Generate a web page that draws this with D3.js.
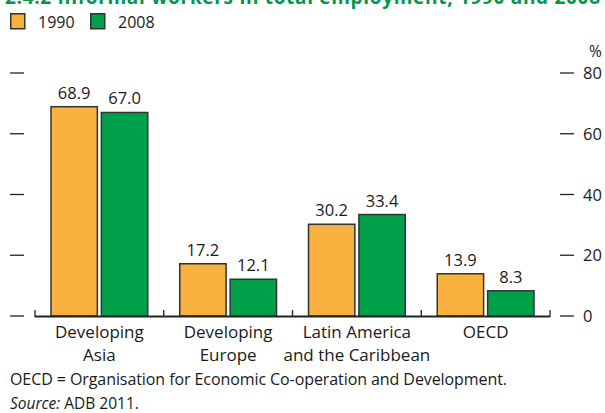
<!DOCTYPE html>
<html><head><meta charset="utf-8">
<script src="https://cdn.jsdelivr.net/npm/d3@7"></script>
<style>body{margin:0;background:#fff}svg{display:block}text{font-family:"Open Sans","Noto Sans",sans-serif;fill:#1a1a1a}</style>
</head><body><svg id="c" width="605" height="413"></svg>
<script>
const categories = [["Developing","Asia"],["Developing","Europe"],["Latin America","and the Caribbean"],["OECD"]];
const seriesNames = ["1990","2008"];
const values1990 = [68.9, 17.2, 30.2, 13.9];
const values2008 = [67.0, 12.1, 33.4, 8.3];
const yTicks = [0,20,40,60,80];
const colors = ["#F8B03F","#00A04B"];

const svg = d3.select("#c");
const x = d3.scaleBand().domain(d3.range(categories.length)).range([35,550]);
const y = d3.scaleLinear().domain([0,80]).range([316,73]);
const inner = d3.scaleBand().domain([0,1]).range([16, x.bandwidth()-16]).paddingInner(0.08);

// title (clipped at top as in the reference)
svg.append("text").attr("x",5).attr("y",4).attr("font-size",19).attr("font-weight","bold")
  .style("fill","#00964B").attr("textLength",595)
  .text("2.4.2  Informal workers in total employment, 1990 and 2008");

// legend
seriesNames.forEach((s,i)=>{
  const lx = [10,90][i];
  svg.append("rect").attr("x",lx+0.75).attr("y",13.75).attr("width",14).attr("height",15)
    .attr("fill",colors[i]).attr("stroke","#333").attr("stroke-width",1.5);
  svg.append("text").attr("x",lx+28).attr("y",27.5).attr("font-size",16).text(s);
});

// ticks left & right
yTicks.forEach(t=>{
  svg.append("line").attr("x1",10).attr("x2",24).attr("y1",y(t)).attr("y2",y(t)).attr("stroke","#222").attr("stroke-width",1.3);
  svg.append("line").attr("x1",560).attr("x2",574).attr("y1",y(t)).attr("y2",y(t)).attr("stroke","#222").attr("stroke-width",1.3);
  svg.append("text").attr("x",583).attr("y",y(t)+6).attr("font-size",16.5).text(t);
});
svg.append("text").attr("x",589).attr("y",57).attr("font-size",15.5).text("%");

// bars
const data = [values1990, values2008];
categories.forEach((c,ci)=>{
  data.forEach((vals,si)=>{
    const bx = x(ci)+inner(si), bw = inner.bandwidth();
    svg.append("rect").attr("x",bx).attr("y",y(vals[ci])).attr("width",bw).attr("height",y(0)-y(vals[ci]))
      .attr("fill",colors[si]).attr("stroke","#333").attr("stroke-width",1.5);
    svg.append("text").attr("x",bx+bw/2).attr("y",y(vals[ci])-8).attr("text-anchor","middle").attr("font-size",16.5)
      .text(vals[ci].toFixed(1));
  });
  const tx = x(ci)+x.bandwidth()/2;
  c.forEach((line,li)=>{
    svg.append("text").attr("x",tx).attr("y",338+li*23).attr("text-anchor","middle").attr("font-size",17).text(line);
  });
});

// baseline with separator ticks
svg.append("line").attr("x1",35).attr("x2",550).attr("y1",316.5).attr("y2",316.5).attr("stroke","#222").attr("stroke-width",2.2);
d3.range(categories.length+1).forEach(i=>{
  const sx = i<categories.length ? x(i) : 550;
  svg.append("line").attr("x1",sx).attr("x2",sx).attr("y1",310).attr("y2",317).attr("stroke","#222").attr("stroke-width",1.3);
});

// notes
svg.append("text").attr("x",10).attr("y",385).attr("font-size",16).attr("textLength",497)
  .text("OECD = Organisation for Economic Co-operation and Development.");
const src = svg.append("text").attr("x",10).attr("y",409).attr("font-size",15.5);
src.append("tspan").attr("font-style","italic").text("Source:");
src.append("tspan").text(" ADB 2011.");
</script></body></html>
